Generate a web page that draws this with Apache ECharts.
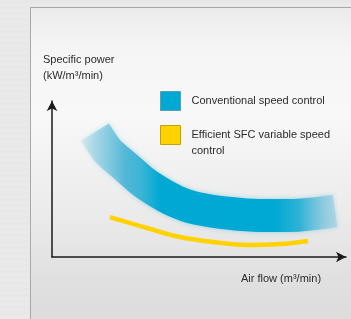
<!DOCTYPE html>
<html>
<head>
<meta charset="utf-8">
<script src="https://cdn.jsdelivr.net/npm/echarts@6/dist/echarts.min.js"></script>
<style>
  html, body {
    margin: 0;
    padding: 0;
    width: 351px;
    height: 319px;
    overflow: hidden;
    background: repeating-linear-gradient(to bottom, #e7e7e7 0px, #e7e7e7 3px, #eaeaea 3px, #eaeaea 6px);
  }
  .panel {
    position: absolute;
    left: 30px;
    top: 7px;
    width: 330px;
    height: 330px;
    border: 1px solid #a9a9a9;
    background: linear-gradient(to bottom, #ebebeb 0%, #f5f5f5 12%, #f8f8f8 32%, #ececec 60%, #e0e0e0 82%, #dbdbdb 100%);
  }
  #chart {
    position: absolute;
    left: 0;
    top: 0;
    width: 351px;
    height: 319px;
  }
</style>
</head>
<body>
<div class="panel"></div>
<div id="chart"></div>
<script>
// values (axis units 0..100, no scale shown)
const seriesNames = ['Conventional speed control', 'Efficient SFC variable speed control']
const conventionalX = [14.6, 19.0, 24.8, 30.6, 36.1, 41.8, 48.6, 60.5, 70.7, 81.0, 96.3]
const conventionalY = [80.1, 67.9, 58.3, 48.7, 41.7, 35.9, 31.4, 27.9, 26.6, 26.6, 29.5]
const sfcX = [19.7, 32.3, 43.5, 54.8, 66.3, 77.6, 87.1]
const sfcY = [25.6, 18.6, 12.8, 9.6, 7.7, 8.3, 10.3]
const yAxisTitle = 'Specific power\n(kW/m³/min)'
const xAxisTitle = 'Air flow (m³/min)'

const FONT = '"Liberation Sans", Arial, sans-serif'
const BLUE = '#00a8d4'
const YELLOW = '#ffd200'

const pairs = (xs, ys) => xs.map((x, i) => [x, ys[i]])

const chart = echarts.init(document.getElementById('chart'), null, { renderer: 'canvas' })

chart.setOption({
  animation: false,
  backgroundColor: 'transparent',
  grid: { left: 52, right: 5, top: 101, bottom: 62 },
  xAxis: {
    type: 'value',
    min: 0,
    max: 100,
    axisLine: {
      show: true,
      symbol: ['none', 'arrow'],
      symbolSize: [8, 10],
      lineStyle: { color: '#1a1a1a', width: 1.5 },
    },
    axisTick: { show: false },
    axisLabel: { show: false },
    splitLine: { show: false },
  },
  yAxis: {
    type: 'value',
    min: 0,
    max: 100,
    axisLine: {
      show: true,
      symbol: ['none', 'arrow'],
      symbolSize: [8, 10],
      lineStyle: { color: '#1a1a1a', width: 1.5 },
    },
    axisTick: { show: false },
    axisLabel: { show: false },
    splitLine: { show: false },
  },
  legend: {
    orient: 'vertical',
    left: 155,
    top: 86,
    itemWidth: 20,
    itemHeight: 19,
    itemGap: 0,
    icon: 'rect',
    selectedMode: false,
    textStyle: { fontFamily: FONT, fontSize: 11, color: '#2b2b2b', lineHeight: 16, padding: [0, 0, 0, 6] },
    // empty first line keeps the two-line label hanging from the icon centre
    formatter: (name) => name === seriesNames[1] ? '\nEfficient SFC variable speed\ncontrol' : name,
    data: [
      {
        name: seriesNames[0],
        itemStyle: { color: BLUE, borderColor: '#5a9fb6', borderWidth: 1 },
      },
      {
        name: seriesNames[1],
        itemStyle: { color: YELLOW, borderColor: '#c5a200', borderWidth: 1 },
      },
    ],
  },
  graphic: [
    {
      type: 'text',
      left: 43,
      top: 52,
      style: { text: yAxisTitle, font: '11px ' + FONT, fill: '#2b2b2b', lineHeight: 16 },
    },
    {
      type: 'text',
      left: 241,
      top: 271,
      style: { text: xAxisTitle, font: '11px ' + FONT, fill: '#2b2b2b', lineHeight: 16 },
    },
  ],
  series: [
    {
      name: seriesNames[0],
      type: 'line',
      smooth: 0.3,
      symbol: 'none',
      silent: true,
      z: 2,
      data: pairs(conventionalX, conventionalY),
      lineStyle: {
        width: 33,
        cap: 'butt',
        shadowBlur: 5,
        shadowColor: 'rgba(0,160,205,0.35)',
        color: new echarts.graphic.LinearGradient(0, 0, 1, 0, [
          { offset: 0, color: 'rgba(150,205,225,0.15)' },
          { offset: 0.06, color: 'rgba(120,195,220,0.45)' },
          { offset: 0.17, color: 'rgba(60,175,210,0.8)' },
          { offset: 0.23, color: '#3ab4d6' },
          { offset: 0.3, color: '#00a8d3' },
          { offset: 0.72, color: '#00a9d4' },
          { offset: 0.81, color: '#30b2d6' },
          { offset: 0.91, color: 'rgba(140,200,222,0.7)' },
          { offset: 1, color: 'rgba(190,220,232,0.5)' },
        ]),
      },
    },
    {
      name: seriesNames[1],
      type: 'line',
      smooth: 0.4,
      symbol: 'none',
      silent: true,
      z: 3,
      data: pairs(sfcX, sfcY),
      lineStyle: { width: 4.5, color: YELLOW, cap: 'butt' },
    },
  ],
})
</script>
</body>
</html>
